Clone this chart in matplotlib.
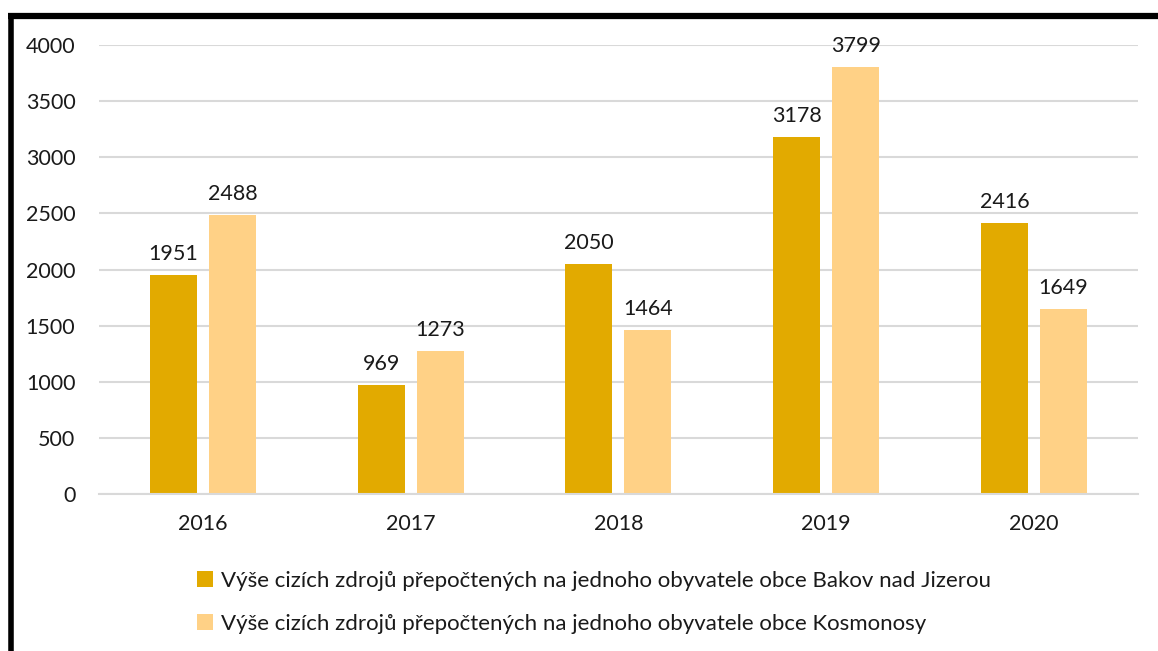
import numpy as np
import matplotlib.pyplot as plt
from matplotlib.lines import Line2D

plt.rcParams['font.family'] = ['Lato', 'DejaVu Sans']

years = ['2016', '2017', '2018', '2019', '2020']
bakov = [1951, 969, 2050, 3178, 2416]
kosmonosy = [2488, 1273, 1464, 3799, 1649]
labels = ['Výše cizích zdrojů přepočtených na jednoho obyvatele obce Bakov nad Jizerou',
          'Výše cizích zdrojů přepočtených na jednoho obyvatele obce Kosmonosy']
c_dark = '#E2AA00'
c_light = '#FFD186'

fig = plt.figure(figsize=(11.58, 6.51), dpi=100)
ax = fig.add_axes([0.0855, 0.241, 0.897, 0.690])

x = np.arange(len(years))
w = 0.226
off = 0.142
b1 = ax.bar(x - off, bakov, w, color=c_dark, label=labels[0], zorder=2)
b2 = ax.bar(x + off, kosmonosy, w, color=c_light, label=labels[1], zorder=2)
for bars in (b1, b2):
    ax.bar_label(bars, padding=8, fontsize=15.5, color='#1a1a1a')

ax.set_xlim(-0.5, 4.5)
ax.set_ylim(0, 4000)
ax.set_yticks(range(0, 4001, 500))
ax.set_xticks(x, years)
ax.grid(axis='y', color='#D9D9D9', lw=1.5, zorder=0)
ax.tick_params(length=0, labelsize=15.5, colors='#1a1a1a')
ax.tick_params(axis='y', pad=17)
ax.tick_params(axis='x', pad=14)
for s in ['top', 'right', 'left']:
    ax.spines[s].set_visible(False)
ax.spines['bottom'].set_color('#D9D9D9')
ax.spines['bottom'].set_linewidth(1.5)

fig.legend(handles=[b1, b2], loc='center', bbox_to_anchor=(0.513, 0.075), ncol=1,
           frameon=False, fontsize=16, handlelength=0.7, handleheight=0.7,
           handletextpad=0.35, labelspacing=1.05, labelcolor='#1a1a1a')

# black frame lines (top and left)
fig.add_artist(Line2D([8 / 1158, 1], [1 - 15.5 / 651] * 2, color='black', lw=4.5,
                      transform=fig.transFigure, solid_capstyle='butt'))
fig.add_artist(Line2D([10.5 / 1158] * 2, [0, 1 - 13 / 651], color='black', lw=4,
                      transform=fig.transFigure, solid_capstyle='butt'))

fig.savefig('out.png', dpi=100)
